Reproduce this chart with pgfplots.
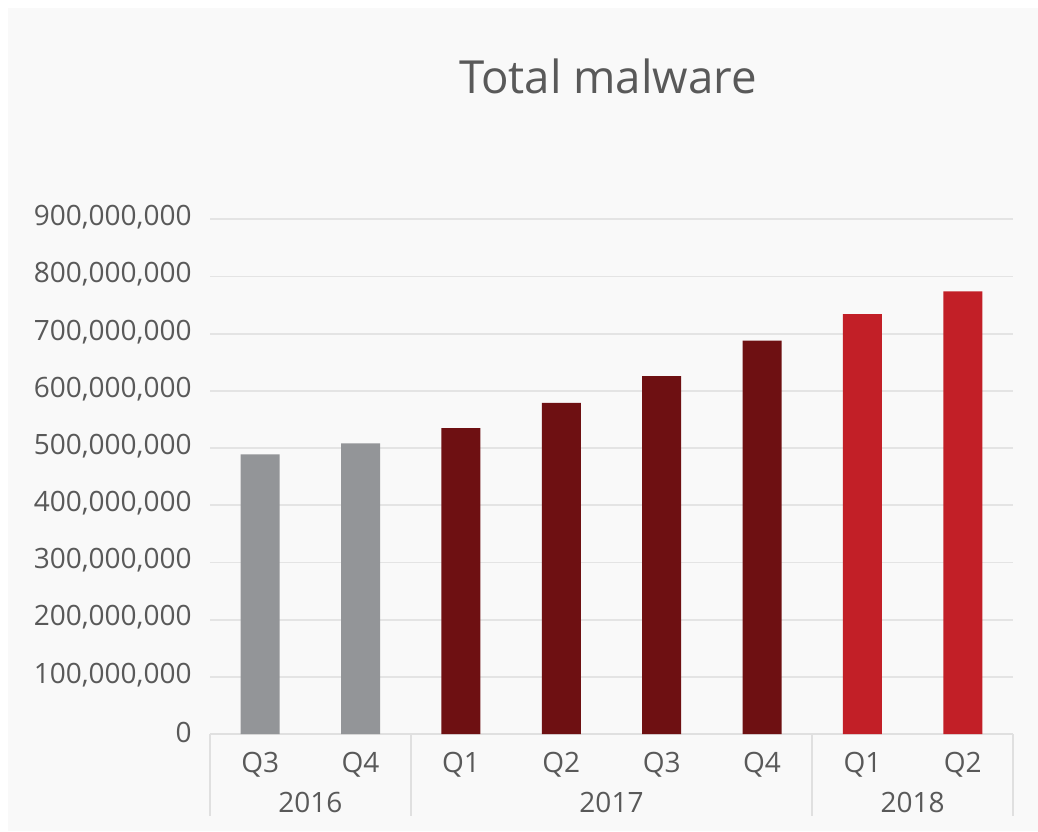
\documentclass[border=0pt]{standalone}
\usepackage{fontspec}
\setmainfont{Open Sans}
\usepackage{pgfplots}
\pgfplotsset{compat=1.18}
\definecolor{bgpanel}{HTML}{F9F9F9}
\definecolor{txt}{HTML}{595959}
\definecolor{gridc}{HTML}{E4E4E4}
\definecolor{axisc}{HTML}{E0E0E0}
\definecolor{cgray}{HTML}{939598}
\definecolor{cdark}{HTML}{6E1012}
\definecolor{cred}{HTML}{C21F27}
\begin{document}
\begin{tikzpicture}[x=1pt,y=1pt]
\fill[white] (0,0) rectangle (519,415.5);
\fill[bgpanel] (4,0) rectangle (519,411.5);
\node[font=\fontsize{22.8}{27}\selectfont, text=txt, anchor=base] at (304,368.5) {Total malware};
\begin{axis}[
  at={(105pt,48.5pt)}, anchor=south west,
  scale only axis, width=401.5pt, height=257.35pt,
  xmin=-0.5, xmax=7.5, ymin=0, ymax=900000000,
  clip=false,
  axis lines*=left,
  x axis line style={draw=axisc, line width=1pt},
  y axis line style={draw=none},
  major tick length=0pt,
  ymajorgrids, major grid style={draw=gridc, line width=0.9pt},
  ytick={0,100000000,200000000,300000000,400000000,500000000,600000000,700000000,800000000,900000000},
  scaled y ticks=false,
  yticklabel style={/pgf/number format/fixed, /pgf/number format/1000 sep={,}, /pgf/number format/assume math mode=true},
  yticklabel style={anchor=east, inner sep=0pt, xshift=-9pt, yshift=1pt, text=txt, font=\fontsize{14}{16}\selectfont},
  xtick={0,...,7},
  xticklabels={Q3,Q4,Q1,Q2,Q3,Q4,Q1,Q2},
  xticklabel style={anchor=base, inner sep=0pt, yshift=-19pt, text=txt, font=\fontsize{14}{16}\selectfont},
  ybar, bar width=19.5pt,
]
\addplot[fill=cgray, draw=none, bar shift=0pt] coordinates {(0,489000000) (1,508000000)};
\addplot[fill=cdark, draw=none, bar shift=0pt] coordinates {(2,535000000) (3,579000000) (4,626000000) (5,688000000)};
\addplot[fill=cred, draw=none, bar shift=0pt] coordinates {(6,734000000) (7,774000000)};
\draw[axisc, line width=0.8pt] (axis cs:-0.5,0) -- ++(0pt,-41pt);
\draw[axisc, line width=0.8pt] (axis cs:1.5,0) -- ++(0pt,-41pt);
\draw[axisc, line width=0.8pt] (axis cs:5.5,0) -- ++(0pt,-41pt);
\draw[axisc, line width=0.8pt] (axis cs:7.5,0) -- ++(0pt,-41pt);
\node[anchor=base, text=txt, font=\fontsize{14}{16}\selectfont, yshift=-39pt] at (axis cs:0.5,0) {2016};
\node[anchor=base, text=txt, font=\fontsize{14}{16}\selectfont, yshift=-39pt] at (axis cs:3.5,0) {2017};
\node[anchor=base, text=txt, font=\fontsize{14}{16}\selectfont, yshift=-39pt] at (axis cs:6.5,0) {2018};
\end{axis}
\end{tikzpicture}
\end{document}
